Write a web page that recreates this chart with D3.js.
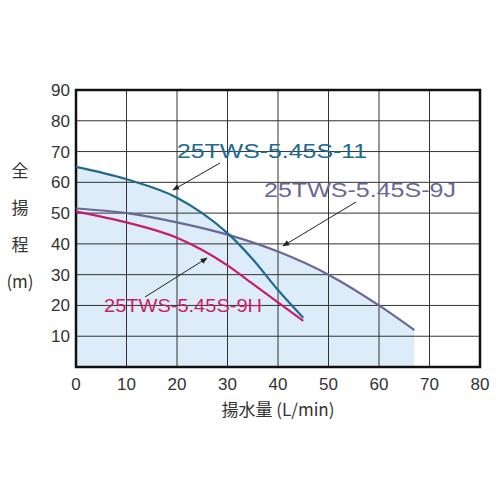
<!DOCTYPE html>
<html><head><meta charset="utf-8">
<script src="https://cdn.jsdelivr.net/npm/d3@7"></script>
<style>body{margin:0;background:#fff}text{font-family:"Noto Sans CJK JP","DejaVu Sans",sans-serif}text.lab,text.tick{font-family:"Liberation Sans",sans-serif}</style>
</head><body><svg id="c" width="500" height="500"></svg>
<script>
const xTicks = [0,10,20,30,40,50,60,70,80];
const yTicks = [10,20,30,40,50,60,70,80,90];
const s11 = [[0,65],[10,61],[20,55],[25,50],[30,43.5],[35,35],[40,25],[45,16]];
const s9J = [[0,51.5],[10,50],[20,47],[30,43],[40,37.5],[50,30],[60,20],[67,12]];
const s9H = [[0,50.5],[10,47],[20,42],[25,38],[30,33],[35,27],[40,21],[45,15]];
const envelope = [[0,65],[10,61],[20,55],[25,50],[30,43.5],[40,37.5],[50,30],[60,20],[67,12]];

const svg = d3.select("#c");
const x = d3.scaleLinear().domain([0,80]).range([76,480]);
const y = d3.scaleLinear().domain([0,90]).range([367,90]);
const curve = d3.line().x(d => x(d[0])).y(d => y(d[1])).curve(d3.curveMonotoneX);

// shaded area
svg.append("path").datum(envelope)
  .attr("d", d3.area().x(d => x(d[0])).y0(y(0)).y1(d => y(d[1])).curve(d3.curveMonotoneX))
  .attr("fill", "#dcecf8");

// grid
svg.append("g").selectAll("line").data(xTicks).join("line")
  .attr("x1", d => x(d)).attr("x2", d => x(d)).attr("y1", y(0)).attr("y2", y(90))
  .attr("stroke", "#333").attr("stroke-width", 1);
svg.append("g").selectAll("line").data(yTicks).join("line")
  .attr("x1", x(0)).attr("x2", x(80)).attr("y1", d => y(d)).attr("y2", d => y(d))
  .attr("stroke", "#333").attr("stroke-width", 1);
svg.append("rect").attr("x", x(0)).attr("y", y(90)).attr("width", x(80)-x(0)).attr("height", y(0)-y(90))
  .attr("fill", "none").attr("stroke", "#111").attr("stroke-width", 2.5);

// tick labels
svg.append("g").selectAll("text").data(xTicks).join("text").attr("class", "tick")
  .attr("x", d => x(d)).attr("y", 390).attr("text-anchor", "middle")
  .attr("font-size", 17).attr("fill", "#333").text(d => d);
svg.append("g").selectAll("text").data(yTicks).join("text").attr("class", "tick")
  .attr("x", 70).attr("y", d => y(d) + 6).attr("text-anchor", "end")
  .attr("font-size", 17).attr("fill", "#333").text(d => d);

// curves
[[s9J,"#6a6898"],[s9H,"#c81e6a"],[s11,"#1e6b8e"]].forEach(([d,c]) =>
  svg.append("path").datum(d).attr("d", curve).attr("fill", "none")
    .attr("stroke", c).attr("stroke-width", 2.2));

// arrows
svg.append("defs").append("marker").attr("id", "ar").attr("viewBox", "0 0 10 10")
  .attr("refX", 9).attr("refY", 5).attr("markerWidth", 7).attr("markerHeight", 7).attr("orient", "auto")
  .append("path").attr("d", "M0,1L10,5L0,9z").attr("fill", "#222");
[[220,163,173,190],[356,202,283,246],[145,297,207,258]].forEach(a =>
  svg.append("line").attr("x1", a[0]).attr("y1", a[1]).attr("x2", a[2]).attr("y2", a[3])
    .attr("stroke", "#222").attr("stroke-width", 1).attr("marker-end", "url(#ar)"));

// series labels
const lab = (t, lx, ly, c, fs, w) => svg.append("text").attr("class", "lab").attr("x", lx).attr("y", ly)
  .attr("font-size", fs).attr("fill", c).attr("textLength", w).attr("lengthAdjust", "spacingAndGlyphs").text(t);
lab("25TWS-5.45S-11", 177, 158, "#1e6b8e", 20, 190);
lab("25TWS-5.45S-9J", 264, 197, "#6a6898", 20, 192);
lab("25TWS-5.45S-9H", 104, 312, "#c81e6a", 19, 158);

// axis titles
["全","揚","程","(m)"].forEach((t,i) =>
  svg.append("text").attr("x", 20).attr("y", [177,214,251,288][i]).attr("text-anchor", "middle")
    .attr("font-size", 17).attr("fill", "#333").text(t));
svg.append("text").attr("x", 278).attr("y", 416).attr("text-anchor", "middle")
  .attr("font-size", 17).attr("fill", "#333").text("揚水量 (L/min)");
</script></body></html>
